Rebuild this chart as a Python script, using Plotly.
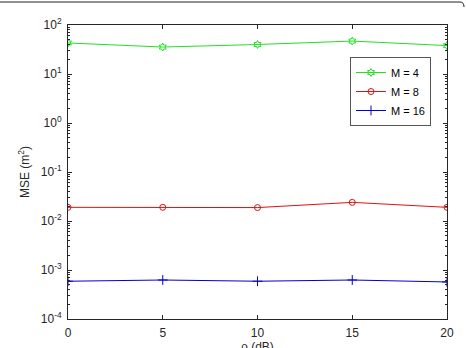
import plotly.graph_objects as go

rho_db = [0, 5, 10, 15, 20]
mse_m4 = [43, 35.5, 40, 47, 38]
mse_m8 = [0.019, 0.019, 0.0188, 0.024, 0.019]
mse_m16 = [5.9e-4, 6.25e-4, 5.9e-4, 6.25e-4, 5.7e-4]
series_names = ["M = 4", "M = 8", "M = 16"]
x_ticks = [0, 5, 10, 15, 20]
y_exponents = [-4, -3, -2, -1, 0, 1, 2]

y_major = [10.0 ** e for e in y_exponents]
y_labels = [f"10<sup>{e}</sup>" for e in y_exponents]
y_minor = [m * 10.0 ** e for e in y_exponents[:-1] for m in range(2, 10)]

W, H = 466, 348
L, R, T, B = 68, 19, 25, 29
pw, ph = W - L - R, H - T - B

FONT = "Liberation Sans, Arial"
INK = "#262626"

fig = go.Figure()
fig.add_trace(go.Scatter(x=rho_db, y=mse_m4, name=series_names[0], mode="lines+markers",
                         line=dict(color="#22e022", width=1),
                         marker=dict(symbol="hexagram-open", size=6, color="#22e022", line=dict(width=1))))
fig.add_trace(go.Scatter(x=rho_db, y=mse_m8, name=series_names[1], mode="lines+markers",
                         line=dict(color="#e01010", width=1),
                         marker=dict(symbol="circle-open", size=6, color="#e01010", line=dict(width=1))))
fig.add_trace(go.Scatter(x=rho_db, y=mse_m16, name=series_names[2], mode="lines+markers",
                         line=dict(color="#0000d0", width=1),
                         marker=dict(symbol="cross-thin-open", size=7, color="#0000d0", line=dict(width=1))))

def px_x(p):
    return (p - L) / pw

def px_y(p):
    return (H - B - p) / ph

# outer rounded frame (top edge visible)
x0, x1, yt = px_x(0), px_x(460), px_y(2)
xr, yr = px_x(464), px_y(7)
fig.add_shape(type="path", xref="paper", yref="paper",
              path=f"M {x0},{yt} L {x1},{yt} Q {xr},{yt} {xr},{yr}",
              line=dict(color="#222222", width=1))

axis_common = dict(showline=True, linecolor=INK, linewidth=1, mirror="ticks",
                   ticks="inside", ticklen=4, tickcolor=INK, showgrid=False, zeroline=False,
                   automargin=False,
                   tickfont=dict(family=FONT, size=12, color=INK))

fig.update_xaxes(range=[0, 20], tickvals=x_ticks, ticktext=[str(v) for v in x_ticks],
                 ticklabelstandoff=3, **axis_common)
fig.add_annotation(text="ρ (dB)", xref="paper", yref="paper", x=0.5, y=px_y(338),
                   xanchor="center", yanchor="top", showarrow=False,
                   font=dict(family=FONT, size=12, color=INK))
fig.update_layout(yaxis=dict(type="log", range=[-4, 2], tickvals=y_major, ticktext=y_labels,
                             ticklabelstandoff=3,
                             title=dict(text="MSE (m<sup>2</sup>)", standoff=8,
                                        font=dict(family=FONT, size=12, color=INK)),
                             **axis_common),
                  yaxis2=dict(type="log", range=[-4, 2], overlaying="y", side="left",
                              tickvals=y_minor, showticklabels=False, ticks="inside", ticklen=2,
                              tickcolor=INK, mirror="ticks", showline=False, showgrid=False,
                              zeroline=False, automargin=False))
fig.add_trace(go.Scatter(x=[None], y=[None], yaxis="y2", showlegend=False, hoverinfo="skip"))

fig.update_layout(
    width=W, height=H,
    margin=dict(l=L, r=R, t=T, b=B),
    paper_bgcolor="white", plot_bgcolor="white",
    showlegend=True,
    legend=dict(x=px_x(350), y=px_y(57), xanchor="left", yanchor="top",
                bordercolor="#555555", borderwidth=1, bgcolor="white",
                font=dict(family=FONT, size=11, color="#000000"),
                itemwidth=30, tracegroupgap=0),
)

fig.write_html("out.html")
